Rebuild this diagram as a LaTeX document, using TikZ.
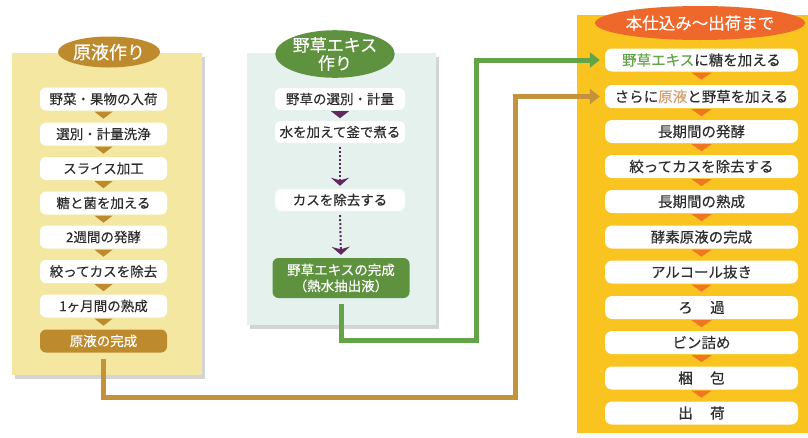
\documentclass[tikz,border=0pt]{standalone}
\usepackage{fontspec}
\setmainfont{Noto Sans CJK JP}[FakeBold=0.3]
\usetikzlibrary{arrows.meta,shadows,shapes.geometric,calc}
\definecolor{lpanel}{RGB}{243,231,162}
\definecolor{brownc}{RGB}{190,138,46}
\definecolor{brownl}{RGB}{196,146,58}
\definecolor{mpanel}{RGB}{228,241,237}
\definecolor{greenc}{RGB}{94,146,62}
\definecolor{greenl}{RGB}{100,164,72}
\definecolor{purp}{RGB}{96,40,96}
\definecolor{rpanel}{RGB}{250,196,32}
\definecolor{redor}{RGB}{238,104,44}
\definecolor{trior}{RGB}{240,118,34}
\definecolor{txt}{RGB}{45,45,45}
\definecolor{tanc}{RGB}{214,160,110}
\tikzset{
  shadowed/.style={drop shadow={shadow xshift=3pt,shadow yshift=-4pt,opacity=0.28,fill=black!60}},
  title/.style={ellipse,inner sep=0pt,text=white,align=center},
  lbox/.style={fill=white,rounded corners=6pt,minimum width=127pt,minimum height=23pt,inner sep=0pt,text=txt,font=\fontsize{13.5}{15}\selectfont},
  mbox/.style={lbox,minimum width=130pt,minimum height=22pt},
  rbox/.style={fill=white,rounded corners=7pt,minimum width=193pt,minimum height=23pt,inner sep=0pt,text=txt,font=\fontsize{14.5}{16}\selectfont},
  conn/.style={line width=5pt,-{Triangle[length=10pt,width=15pt]},shorten >=5pt,shorten <=6pt},
}
\newcommand{\downtri}[3]{\fill[#1] ($(#2.south)+(-#3,1)$) -- ++(2*#3,0) -- ++(-#3,7) -- cycle;}
\begin{document}
\begin{tikzpicture}[x=1pt,y=-1pt]
\useasboundingbox (0,0) rectangle (808,437);
\fill[white] (0,0) rectangle (808,437);
% panels
\fill[lpanel,shadowed] (12,53) rectangle (202,375);
\fill[mpanel,shadowed] (247,53) rectangle (436,325);
\fill[rpanel] (577,15) rectangle (808,433);
% titles
\node[title,fill=brownc,minimum width=102pt,minimum height=31pt,font=\fontsize{18}{20}\selectfont] (LT) at (109,52) {原液作り};
\node[title,fill=greenc,minimum width=116pt,minimum height=42pt,font=\fontsize{17}{18}\selectfont] (MT) at (335,54) {野草エキス\\作り};
\node[title,fill=redor,minimum width=165pt,minimum height=34pt,font=\fontsize{16.5}{18}\selectfont] (RT) at (700,23) {本仕込み～出荷まで};
% left column
\node[lbox] (L1) at (103.5,99) {野菜・果物の入荷};
\node[lbox] (L2) at (103.5,134) {選別・計量洗浄};
\node[lbox] (L3) at (103.5,168.5) {スライス加工};
\node[lbox] (L4) at (103.5,203) {糖と菌を加える};
\node[lbox] (L5) at (103.5,237) {2週間の発酵};
\node[lbox] (L6) at (103.5,271.5) {絞ってカスを除去};
\node[lbox] (L7) at (103.5,306) {1ヶ月間の熟成};
\node[lbox,fill=brownc,text=white] (L8) at (103.5,341) {原液の完成};
\foreach \n in {L1,L2,L3,L4,L5,L6,L7} {\downtri{brownc}{\n}{9}}
% middle column
\node[mbox] (M1) at (340,99) {野草の選別・計量};
\node[mbox] (M2) at (340,132) {水を加えて釜で煮る};
\node[mbox] (M3) at (340,200) {カスを除去する};
\node[lbox,fill=greenc,text=white,minimum width=137pt,minimum height=40pt,align=center,font=\fontsize{13.5}{16}\selectfont] (M4) at (341,278) {野草エキスの完成\\（熱水抽出液）};
\downtri{purp}{M1}{9}
\draw[purp,dotted,line width=2pt,-{Stealth[length=8pt,width=18pt,inset=2.5pt]},shorten >=3pt,shorten <=4pt] (M2.south) -- (M3.north);
\draw[purp,dotted,line width=2pt,-{Stealth[length=8pt,width=18pt,inset=2.5pt]},shorten >=3pt,shorten <=4pt] (M3.south) -- (M4.north);
% right column
\node[rbox] (R1) at (701.5,60) {{\color{greenl}野草エキス}に糖を加える};
\node[rbox] (R2) at (701.5,96.5) {さらに{\color{tanc}原液}と野草を加える};
\node[rbox] (R3) at (701.5,131.5) {長期間の発酵};
\node[rbox] (R4) at (701.5,166.5) {絞ってカスを除去する};
\node[rbox] (R5) at (701.5,201.5) {長期間の熟成};
\node[rbox] (R6) at (701.5,237) {酵素原液の完成};
\node[rbox] (R7) at (701.5,272) {アルコール抜き};
\node[rbox] (R8) at (701.5,307.5) {ろ\hspace{1.2em}過};
\node[rbox] (R9) at (701.5,342.5) {ビン詰め};
\node[rbox] (R10) at (701.5,378) {梱\hspace{1.2em}包};
\node[rbox] (R11) at (701.5,413) {出\hspace{1.2em}荷};
\foreach \n in {R1,R2,R3,R4,R5,R6,R7,R8,R9,R10} {\downtri{trior}{\n}{10}}
% connectors
\coordinate (g1) at (476,340);
\coordinate (b1) at (515,397);
\draw[conn,greenl] (M4.south) |- (g1) |- (R1.west);
\draw[conn,brownl] (L8.south) |- (b1) |- (R2.west);
\end{tikzpicture}
\end{document}
